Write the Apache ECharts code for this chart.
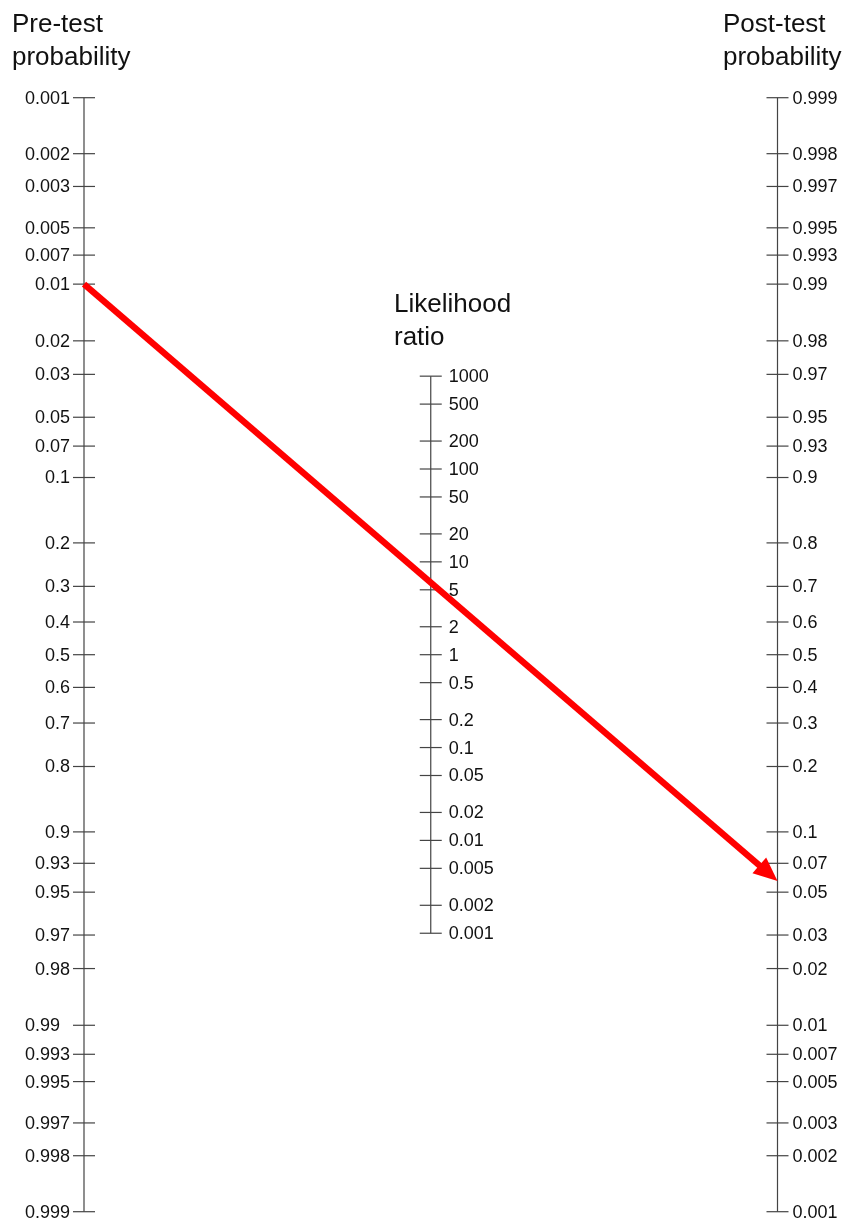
<!DOCTYPE html>
<html>
<head>
<meta charset="utf-8">
<script src="https://cdn.jsdelivr.net/npm/echarts@6/dist/echarts.min.js"></script>
<style>html,body{margin:0;padding:0;background:#fff;}#chart{width:847px;height:1223px;}</style>
</head>
<body>
<div id="chart"></div>
<script>
// ---- data ----
const preTicks = [0.001,0.002,0.003,0.005,0.007,0.01,0.02,0.03,0.05,0.07,0.1,0.2,0.3,0.4,0.5,0.6,0.7,0.8,0.9,0.93,0.95,0.97,0.98,0.99,0.993,0.995,0.997,0.998,0.999];
const preLabels = ['0.001','0.002','0.003','0.005','0.007','0.01','0.02','0.03','0.05','0.07','0.1','0.2','0.3','0.4','0.5','0.6','0.7','0.8','0.9','0.93','0.95','0.97','0.98','0.99  ','0.993','0.995','0.997','0.998','0.999'];
const postTicks = [0.999,0.998,0.997,0.995,0.993,0.99,0.98,0.97,0.95,0.93,0.9,0.8,0.7,0.6,0.5,0.4,0.3,0.2,0.1,0.07,0.05,0.03,0.02,0.01,0.007,0.005,0.003,0.002,0.001];
const postLabels = ['0.999','0.998','0.997','0.995','0.993','0.99','0.98','0.97','0.95','0.93','0.9','0.8','0.7','0.6','0.5','0.4','0.3','0.2','0.1','0.07','0.05','0.03','0.02','0.01','0.007','0.005','0.003','0.002','0.001'];
const lrTicks = [1000,500,200,100,50,20,10,5,2,1,0.5,0.2,0.1,0.05,0.02,0.01,0.005,0.002,0.001];
const lrLabels = ['1000','500','200','100','50','20','10','5','2','1','0.5','0.2','0.1','0.05','0.02','0.01','0.005','0.002','0.001'];
const arrowPre = 0.01;   // pre-test probability at arrow start
const arrowPost = 0.057; // post-test probability at arrow tip
const titles = { pre: 'Pre-test\nprobability', lr: 'Likelihood\nratio', post: 'Post-test\nprobability' };

// ---- scales ----
function logit(p){ return Math.log(p/(1-p)); }
const L = logit(0.999);
const preData = preTicks.map((p,i)=>[0, -logit(p), i]);
const postData = postTicks.map((p,i)=>[1, logit(p), i]);
const lrData = lrTicks.map((r,i)=>[0.5, Math.log(r)/2, i]);

const FONT = '"Liberation Sans", Arial, sans-serif';
const AX = '#444';

function tickSeries(data, labels, side){
  return {
    type:'custom', coordinateSystem:'cartesian2d', data:data, silent:true, z:2,
    renderItem:function(params, api){
      const pt = api.coord([api.value(0), api.value(1)]);
      const i = api.value(2);
      let tx, align;
      if (side==='left'){ tx = pt[0]-14; align='right'; }
      else if (side==='mid'){ tx = pt[0]+18; align='left'; }
      else { tx = pt[0]+15; align='left'; }
      return {type:'group', children:[
        {type:'line', shape:{x1:pt[0]-11,y1:pt[1],x2:pt[0]+11,y2:pt[1]}, style:{stroke:AX, lineWidth:1.2}},
        {type:'text', x:tx, y:pt[1]+1, style:{text:labels[i], fill:'#111', font:'18px '+FONT, textAlign:align, textVerticalAlign:'middle'}}
      ]};
    }
  };
}
function axisSeries(x, top, bottom){
  return {
    type:'custom', coordinateSystem:'cartesian2d', data:[[x, top, bottom]], silent:true, z:1,
    renderItem:function(params, api){
      const a = api.coord([api.value(0), api.value(1)]);
      const b = api.coord([api.value(0), api.value(2)]);
      return {type:'line', shape:{x1:a[0],y1:a[1],x2:b[0],y2:b[1]}, style:{stroke:AX, lineWidth:1.2}};
    }
  };
}

const arrowSeries = {
  type:'custom', coordinateSystem:'cartesian2d', silent:true, z:5,
  data:[[0, -logit(arrowPre), 1, logit(arrowPost)]],
  renderItem:function(params, api){
    const a = api.coord([api.value(0), api.value(1)]);
    const b = api.coord([api.value(2), api.value(3)]);
    const dx = b[0]-a[0], dy = b[1]-a[1], len = Math.sqrt(dx*dx+dy*dy);
    const ux = dx/len, uy = dy/len, nx = -uy, ny = ux;
    const hl = 24, hw = 10.5;
    const bx = b[0]-ux*hl, by = b[1]-uy*hl;
    return {type:'group', children:[
      {type:'line', shape:{x1:a[0],y1:a[1],x2:bx+ux*2,y2:by+uy*2}, style:{stroke:'#ff0000', lineWidth:6.5}},
      {type:'polygon', shape:{points:[[b[0],b[1]],[bx+nx*hw,by+ny*hw],[bx-nx*hw,by-ny*hw]]}, style:{fill:'#ff0000'}}
    ]};
  }
};

const chart = echarts.init(document.getElementById('chart'), null, {renderer:'canvas'});
chart.setOption({
  animation:false,
  backgroundColor:'#fff',
  grid:{left:84, right:69.5, top:97.7, bottom:11.3, containLabel:false},
  xAxis:{type:'value', min:0, max:1, show:false},
  yAxis:{type:'value', min:-L, max:L, show:false},
  graphic:[
    {type:'text', x:12, y:8, style:{text:titles.pre, font:'26px '+FONT, lineHeight:33, fill:'#111', textVerticalAlign:'top'}},
    {type:'text', x:394, y:288, style:{text:titles.lr, font:'26px '+FONT, lineHeight:33, fill:'#111', textVerticalAlign:'top'}},
    {type:'text', x:723, y:8, style:{text:titles.post, font:'26px '+FONT, lineHeight:33, fill:'#111', textVerticalAlign:'top'}}
  ],
  series:[
    axisSeries(0, L, -L),
    axisSeries(0.5, Math.log(1000)/2, Math.log(0.001)/2),
    axisSeries(1, L, -L),
    tickSeries(preData, preLabels, 'left'),
    tickSeries(lrData, lrLabels, 'mid'),
    tickSeries(postData, postLabels, 'right'),
    arrowSeries
  ]
});
</script>
</body>
</html>
